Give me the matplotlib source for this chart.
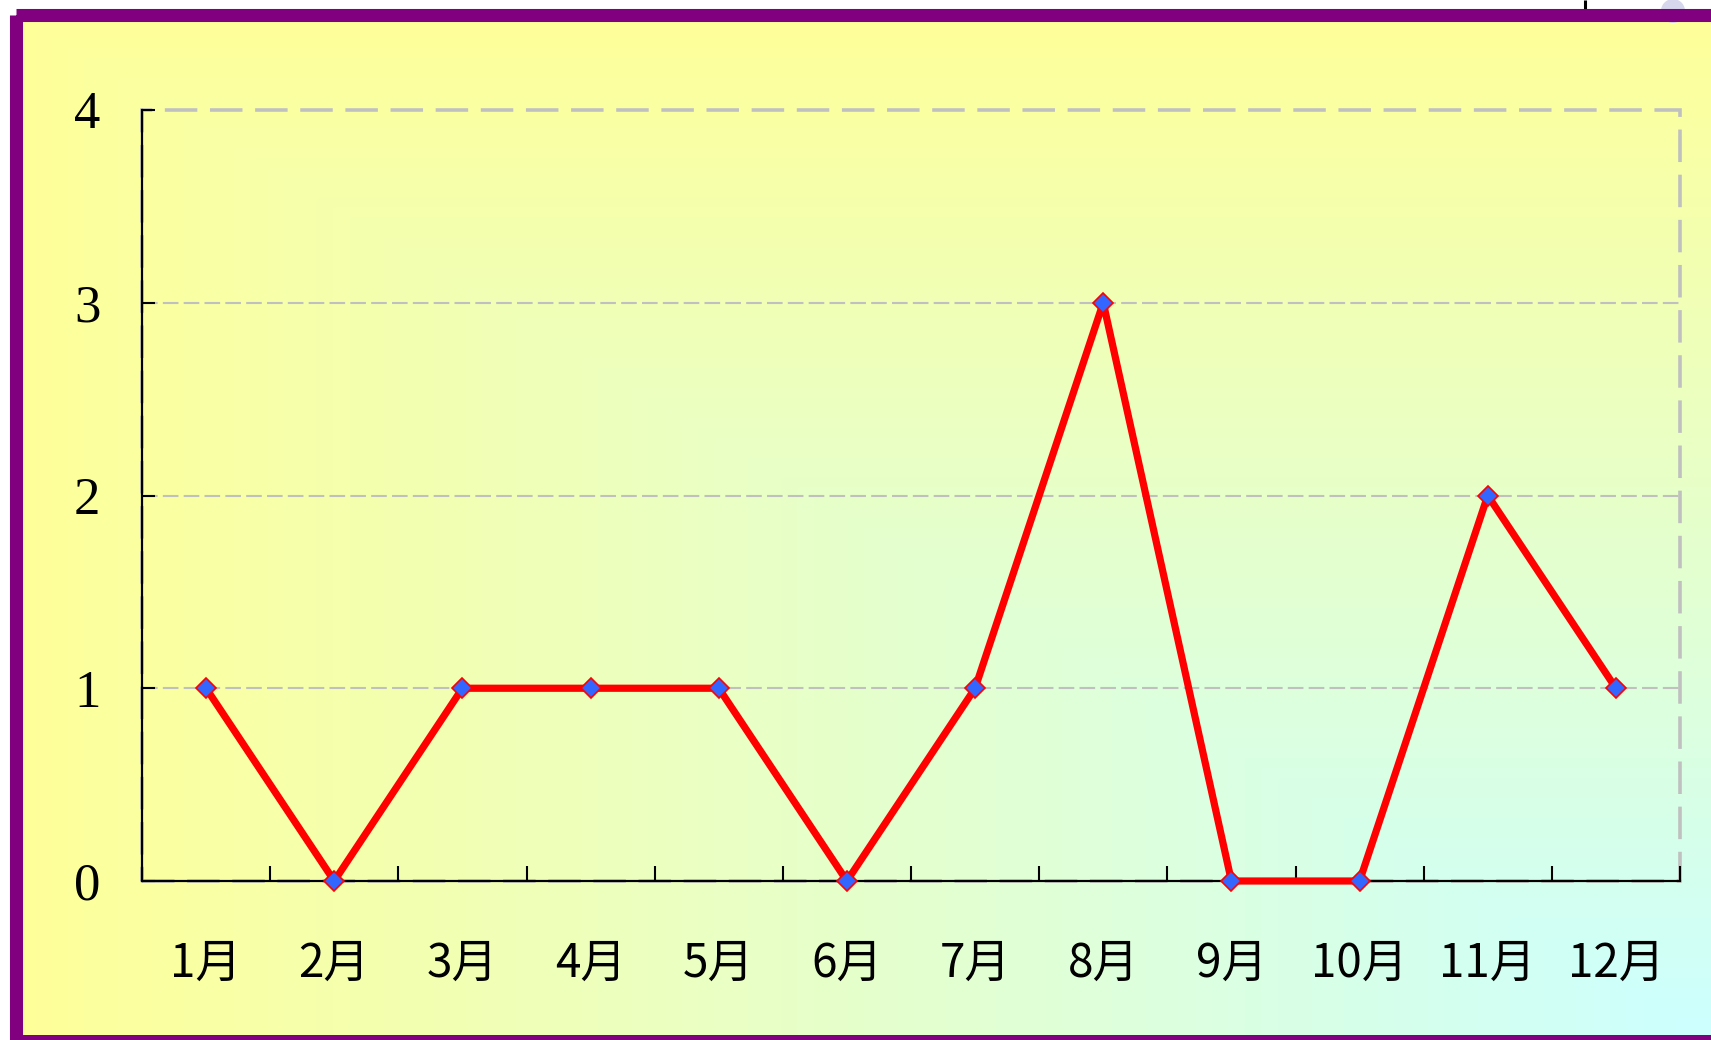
import numpy as np
import matplotlib
matplotlib.use("Agg")
import matplotlib.pyplot as plt
from matplotlib.patches import Rectangle, Circle

# ---- data ----
months = ["1月", "2月", "3月", "4月", "5月", "6月", "7月", "8月", "9月", "10月", "11月", "12月"]
values = [1, 0, 1, 1, 1, 0, 1, 3, 0, 0, 2, 1]
y_ticks = [0, 1, 2, 3, 4]

W, H = 1711, 1040
fig = plt.figure(figsize=(W / 100, H / 100), dpi=100)
fig.patch.set_facecolor("white")

# ---- background (pixel coordinates) ----
bg = fig.add_axes([0, 0, 1, 1])
bg.set_xlim(0, W)
bg.set_ylim(H, 0)
bg.axis("off")

xs = np.linspace(0, 1, 400)
ys = np.linspace(0, 1, 260)
U, V = np.meshgrid(xs, ys)
T = np.minimum(U, V)
c0 = np.array([1.0, 1.0, 0x99 / 255])
c1 = np.array([0xCC / 255, 1.0, 1.0])
img = c0[None, None, :] * (1 - T[..., None]) + c1[None, None, :] * T[..., None]
bg.imshow(img, extent=(16, 1711, 1040, 15), origin="upper", aspect="auto",
          interpolation="bilinear", zorder=0)

# small screenshot artefacts at the top
bg.add_patch(Circle((1673, 11), 12, facecolor="#d6d6ec", edgecolor="none", zorder=1))
bg.plot([1585, 1585], [0, 9], color="black", lw=2.2, zorder=1, solid_capstyle="butt")

purple = "#800080"
frame = Rectangle((16, 15), 1720, 1050, facecolor="none", edgecolor=purple,
                  lw=9.4, joinstyle="round", zorder=2)
bg.add_patch(frame)
# bottom strip of the frame (cut off by the picture edge)
bg.add_patch(Rectangle((10, 1035), W, 10, facecolor=purple, edgecolor="none", zorder=2))

# ---- main axes ----
L, R, T_, B = 142, 1680, 110, 881
ax = fig.add_axes([L / W, (H - B) / H, (R - L) / W, (B - T_) / H])
ax.set_facecolor("none")
ax.set_xlim(0, 12)
ax.set_ylim(0, 4)

for yv in y_ticks[1:-1]:
    ax.axhline(yv, color="#c0c0c0", lw=1.5, ls=(0, (7.5, 2.5)), zorder=1)

ax.add_patch(Rectangle((0, 0), 1, 1, transform=ax.transAxes, fill=False,
                       edgecolor="#c0c0c0", lw=2.6, ls=(0, (9, 3.5)),
                       clip_on=False, zorder=1))

for side in ["top", "right"]:
    ax.spines[side].set_visible(False)
for side in ["left", "bottom"]:
    ax.spines[side].set_color("black")
    ax.spines[side].set_linewidth(1.6)
    ax.spines[side].set_zorder(3)

xpos = np.arange(len(months)) + 0.5
ax.plot(xpos, values, color="#ff0000", lw=5.2, marker="D", ms=10,
        mfc="#3366ff", mec="#ff0000", mew=1.2, clip_on=False, zorder=5)

ax.set_xticks(np.arange(13))
ax.set_xticklabels([])
ax.tick_params(axis="x", which="major", direction="in", length=11, width=1.5,
               color="black")
ax.set_xticks(xpos, minor=True)
ax.set_xticklabels(months, minor=True, family=["Noto Sans CJK TC", "DejaVu Sans"],
                   fontsize=33)
ax.tick_params(axis="x", which="minor", length=0, pad=42)

ax.set_yticks(y_ticks)
ax.set_yticklabels([str(v) for v in y_ticks], family=["Liberation Serif"], fontsize=38)
ax.tick_params(axis="y", direction="in", length=9, width=1.5, pad=30, color="black")

fig.savefig("out.png", dpi=100, facecolor="white")
